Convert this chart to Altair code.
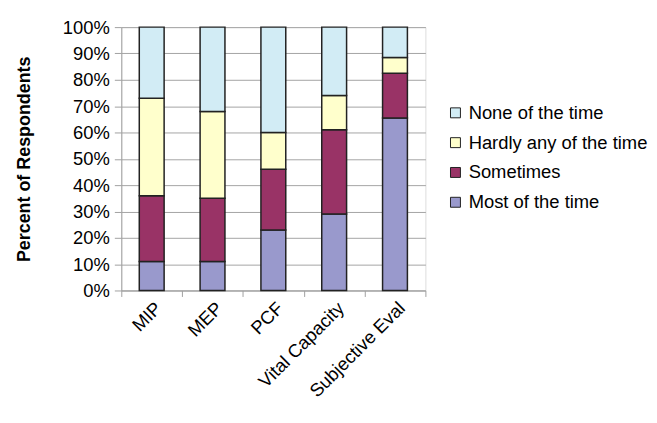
import altair as alt
import pandas as pd

categories = ["MIP", "MEP", "PCF", "Vital Capacity", "Subjective Eval"]
responses = ["None of the time", "Hardly any of the time", "Sometimes", "Most of the time"]
most = [11, 11, 23, 29, 65.5]
sometimes = [25, 24, 23, 32, 17]
hardly = [37, 33, 14, 13, 6]
none = [27, 32, 40, 26, 11.5]
colors = ["#D2ECF5", "#FFFFCC", "#993366", "#9999CC"]

series = {"Most of the time": most, "Sometimes": sometimes,
          "Hardly any of the time": hardly, "None of the time": none}
stack_rank = {"Most of the time": 0, "Sometimes": 1, "Hardly any of the time": 2, "None of the time": 3}

rows = []
for resp, vals in series.items():
    for c, v in zip(categories, vals):
        rows.append({"category": c, "response": resp, "value": v, "rank": stack_rank[resp]})
df = pd.DataFrame(rows)

font = "Liberation Sans"

chart = alt.Chart(df).mark_bar(size=25, stroke="#222222", strokeWidth=1.5).encode(
    x=alt.X("category:N", sort=categories, title=None,
            scale=alt.Scale(paddingInner=0, paddingOuter=0),
            axis=alt.Axis(labelAngle=-45, labelFontSize=18.5, labelFont=font, labelColor="#000000",
                          tickBand="extent", tickColor="#A0A0A0", tickSize=6,
                          domainColor="#A0A0A0", labelPadding=2)),
    y=alt.Y("value:Q", stack="normalize", title="Percent of Respondents",
            scale=alt.Scale(domain=[0, 1]),
            axis=alt.Axis(format=".0%", values=[i / 10 for i in range(11)],
                          labelFontSize=18.5, labelFont=font, labelColor="#000000",
                          tickColor="#A0A0A0", tickSize=7, domainColor="#A0A0A0",
                          gridColor="#A4A4A4", gridWidth=1, labelPadding=5,
                          titleFont=font, titleFontSize=18, titleFontWeight="bold",
                          titleColor="#000000", titleX=-97, titleY=132.5,
                          titleAngle=270, titleAlign="center", titleBaseline="middle")),
    color=alt.Color("response:N", scale=alt.Scale(domain=responses, range=colors),
                    legend=alt.Legend(title=None, orient="none", legendX=327, legendY=77,
                                      symbolType="square", symbolSize=100,
                                      symbolStrokeColor="#222222", symbolStrokeWidth=1,
                                      labelFontSize=18.5, labelFont=font, labelColor="#000000",
                                      labelLimit=300, rowPadding=11, labelOffset=4, padding=0)),
    order=alt.Order("rank:Q", sort="ascending"),
).properties(
    width=306, height=265,
    autosize=alt.AutoSizeParams(type="none"),
    padding={"left": 114, "top": 18, "right": 225, "bottom": 115},
).configure_view(
    fill="#D0D0D0", stroke="#A0A0A0", strokeWidth=1
).configure(background="#FFFFFF")

chart.save("out.html", embed_options={"renderer": "svg", "actions": False})
